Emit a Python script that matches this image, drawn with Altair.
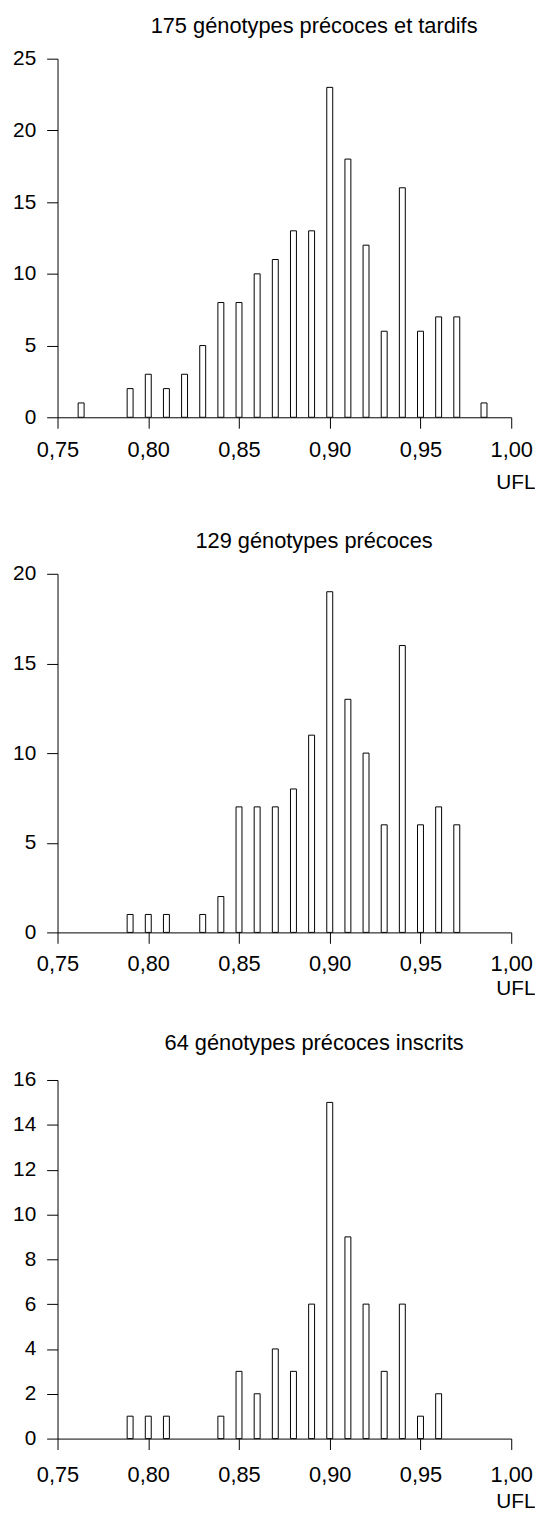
import altair as alt
import pandas as pd

# Panel 1: 175 génotypes précoces et tardifs
ufl_1 = [0.763, 0.79, 0.80, 0.81, 0.82, 0.83, 0.84, 0.85, 0.86, 0.87, 0.88,
         0.89, 0.90, 0.91, 0.92, 0.93, 0.94, 0.95, 0.96, 0.97, 0.985]
n_1 = [1, 2, 3, 2, 3, 5, 8, 8, 10, 11, 13, 13, 23, 18, 12, 6, 16, 6, 7, 7, 1]

# Panel 2: 129 génotypes précoces
ufl_2 = [0.79, 0.80, 0.81, 0.83, 0.84, 0.85, 0.86, 0.87, 0.88, 0.89, 0.90,
         0.91, 0.92, 0.93, 0.94, 0.95, 0.96, 0.97]
n_2 = [1, 1, 1, 1, 2, 7, 7, 7, 8, 11, 19, 13, 10, 6, 16, 6, 7, 6]

# Panel 3: 64 génotypes précoces inscrits
ufl_3 = [0.79, 0.80, 0.81, 0.84, 0.85, 0.86, 0.87, 0.88, 0.89, 0.90, 0.91,
         0.92, 0.93, 0.94, 0.95, 0.96]
n_3 = [1, 1, 1, 1, 3, 2, 4, 3, 6, 15, 9, 6, 3, 6, 1, 2]

titles = ["175 génotypes précoces et tardifs",
          "129 génotypes précoces",
          "64 génotypes précoces inscrits"]
x_ticks = [0.75, 0.80, 0.85, 0.90, 0.95, 1.00]

FONT = "Liberation Sans"


def panel(xv, nv, title, ymax, ystep, label_pad, ufl_y, title_offset):
    df = pd.DataFrame({"UFL": xv, "n": nv})
    return alt.Chart(df).mark_bar(
        size=6, fill="white", stroke="black", strokeWidth=1
    ).encode(
        x=alt.X(
            "UFL:Q",
            scale=alt.Scale(domain=[0.75, 1.0], nice=False, zero=False, padding=0),
            axis=alt.Axis(
                values=x_ticks,
                labelExpr="replace(format(datum.value, '.2f'), '.', ',')",
                title="UFL", titleX=482, titleY=ufl_y, titleAlign="right",
                titleBaseline="top", titleFontSize=21, titleFontWeight="normal",
                titleFont=FONT, titleColor="black",
                labelFontSize=22, labelFont=FONT, labelColor="black",
                labelPadding=label_pad, tickSize=11, grid=False,
                domainColor="black", tickColor="black", labelFlush=False,
                labelOverlap=False,
            ),
        ),
        y=alt.Y(
            "n:Q",
            scale=alt.Scale(domain=[0, ymax], nice=False, padding=0),
            axis=alt.Axis(
                values=list(range(0, ymax + 1, ystep)), title=None,
                labelFontSize=21, labelFont=FONT, labelColor="black",
                labelPadding=11, tickSize=11, grid=False,
                domainColor="black", tickColor="black",
            ),
        ),
    ).properties(
        width=458, height=362,
        title=alt.TitleParams(title, dx=30, offset=title_offset, fontSize=22,
                              font=FONT, fontWeight="normal", anchor="middle",
                              color="black"),
    )


p1 = panel(ufl_1, n_1, titles[0], 25, 5, 12, 55, 10)
p2 = panel(ufl_2, n_2, titles[1], 20, 5, 10, 46, 10)
p3 = panel(ufl_3, n_3, titles[2], 16, 2, 15, 53, 14)

chart = alt.vconcat(
    alt.vconcat(p1, p2, spacing=38), p3, spacing=34
).properties(
    padding={"left": 4, "top": 0, "right": 0, "bottom": 0}
).configure(
    background="white", view=alt.ViewConfig(stroke=None)
)

chart.save("out.html", embed_options={"renderer": "svg", "actions": False})
